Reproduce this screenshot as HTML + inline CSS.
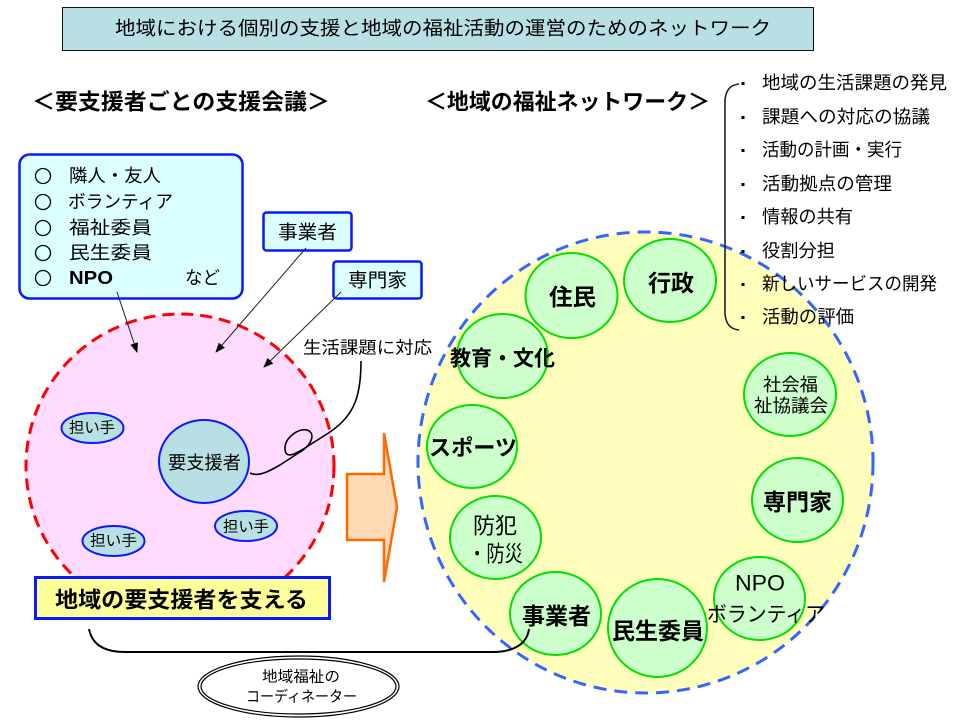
<!DOCTYPE html>
<html><head><meta charset="utf-8"><style>
html,body{margin:0;padding:0;background:#fff;}
svg{display:block;}
text{font-family:"Liberation Sans","Noto Sans CJK JP",sans-serif;fill:#000;}
</style></head><body>
<svg width="960" height="720" viewBox="0 0 960 720" xmlns="http://www.w3.org/2000/svg">
<defs>
<marker id="ah" markerWidth="10" markerHeight="10" refX="9" refY="5" orient="auto" markerUnits="userSpaceOnUse">
<path d="M0,1 L10,5 L0,9 Z" fill="#000"/>
</marker>
</defs>
<rect width="960" height="720" fill="#fff"/>

<!-- Title -->
<rect x="62.5" y="7.5" width="751" height="43" fill="#b8dfe3" stroke="#111" stroke-width="1"/>
<text x="115" y="29" font-size="19" dominant-baseline="central" textLength="656" lengthAdjust="spacingAndGlyphs">地域における個別の支援と地域の福祉活動の運営のためのネットワーク</text>

<!-- Headings -->
<text x="32" y="102" font-size="22" font-weight="bold" dominant-baseline="central" textLength="298" lengthAdjust="spacingAndGlyphs">＜要支援者ごとの支援会議＞</text>
<text x="425" y="102" font-size="22" font-weight="bold" dominant-baseline="central" textLength="285" lengthAdjust="spacingAndGlyphs">＜地域の福祉ネットワーク＞</text>

<!-- Pink circle -->
<ellipse cx="180" cy="466" rx="154" ry="152" fill="#ffdcff" stroke="#ff0000" stroke-width="3" stroke-dasharray="12 7"/>

<!-- Cyan box -->
<rect x="19.5" y="154.5" width="223" height="144" rx="10" fill="#dcffff" stroke="#0a1aff" stroke-width="2.5"/>
<g fill="none" stroke="#000" stroke-width="1.3">
<circle cx="43" cy="176" r="7.5"/>
<circle cx="43" cy="202" r="7.5"/>
<circle cx="43" cy="228" r="7.5"/>
<circle cx="43" cy="253" r="7.5"/>
<circle cx="43" cy="278" r="7.5"/>
</g>
<text x="69" y="176" font-size="18" dominant-baseline="central" textLength="92" lengthAdjust="spacingAndGlyphs">隣人・友人</text>
<text x="68" y="202" font-size="18" dominant-baseline="central" textLength="105" lengthAdjust="spacingAndGlyphs">ボランティア</text>
<text x="69" y="228" font-size="18" dominant-baseline="central" textLength="83" lengthAdjust="spacingAndGlyphs">福祉委員</text>
<text x="69" y="253" font-size="18" dominant-baseline="central" textLength="83" lengthAdjust="spacingAndGlyphs">民生委員</text>
<text x="69" y="278" font-size="18" font-weight="bold" dominant-baseline="central" textLength="44" lengthAdjust="spacingAndGlyphs">NPO</text>
<text x="185" y="278" font-size="18" dominant-baseline="central" textLength="35" lengthAdjust="spacingAndGlyphs">など</text>

<!-- small boxes -->
<rect x="263.5" y="212.5" width="88" height="38" rx="3" fill="#dcffff" stroke="#0a1aff" stroke-width="2.5"/>
<text x="278" y="233" font-size="19" dominant-baseline="central" textLength="59" lengthAdjust="spacingAndGlyphs">事業者</text>
<rect x="333.5" y="261.5" width="88" height="37" rx="3" fill="#dcffff" stroke="#0a1aff" stroke-width="2.5"/>
<text x="348" y="281" font-size="19" dominant-baseline="central" textLength="59" lengthAdjust="spacingAndGlyphs">専門家</text>

<!-- arrows -->
<g stroke="#222" stroke-width="1" fill="none">
<line x1="117" y1="292" x2="137" y2="352" marker-end="url(#ah)"/>
<line x1="306" y1="248" x2="216" y2="352" marker-end="url(#ah)"/>
<line x1="341" y1="292" x2="264" y2="367" marker-end="url(#ah)"/>
</g>

<text x="303" y="348" font-size="17" dominant-baseline="central" textLength="129" lengthAdjust="spacingAndGlyphs">生活課題に対応</text>

<!-- 担い手 -->
<ellipse cx="92.5" cy="428" rx="31" ry="15" fill="#b8dfe3" stroke="#0a1aff" stroke-width="2"/>
<text x="69" y="428" font-size="15" dominant-baseline="central" textLength="46" lengthAdjust="spacingAndGlyphs">担い手</text>
<ellipse cx="246" cy="526" rx="31" ry="15" fill="#b8dfe3" stroke="#0a1aff" stroke-width="2"/>
<text x="223" y="527" font-size="15" dominant-baseline="central" textLength="46" lengthAdjust="spacingAndGlyphs">担い手</text>
<ellipse cx="113.5" cy="541" rx="31" ry="15" fill="#b8dfe3" stroke="#0a1aff" stroke-width="2"/>
<text x="90" y="541" font-size="15" dominant-baseline="central" textLength="47" lengthAdjust="spacingAndGlyphs">担い手</text>

<!-- 要支援者 -->
<ellipse cx="204" cy="461.5" rx="45" ry="41.5" fill="#b8dfe3" stroke="#0a1aff" stroke-width="2"/>
<text x="168" y="463" font-size="18" dominant-baseline="central" textLength="73" lengthAdjust="spacingAndGlyphs">要支援者</text>

<!-- curve from 生活課題 -->
<path d="M361,361 C361,395 355,415 330,432 L305,448 C295,454 285,460 285,448 C285,438 298,428 307,430 C316,433 312,445 300,452 L280,465 C268,472 258,477 250,473" fill="none" stroke="#000" stroke-width="1.6"/>

<!-- Yellow box -->
<rect x="35.5" y="577.5" width="294" height="41" fill="#ffff99" stroke="#0a1aff" stroke-width="3"/>
<text x="55" y="600" font-size="22" font-weight="bold" dominant-baseline="central" textLength="253" lengthAdjust="spacingAndGlyphs">地域の要支援者を支える</text>

<!-- Orange arrow -->
<polygon points="347,474 384,474 384,433 397,507 384,582 384,540 347,540" fill="#ffdab4" stroke="#ff6a00" stroke-width="2.5" stroke-linejoin="miter"/>

<!-- Big yellow circle -->
<ellipse cx="645.5" cy="462.5" rx="227.5" ry="230.5" fill="#ffffbb" stroke="#3366ff" stroke-width="3" stroke-dasharray="13 8"/>

<!-- Green circles -->
<g fill="#ccffcc" stroke="#00e000" stroke-width="2">
<ellipse cx="571.5" cy="295.5" rx="46" ry="42.5"/>
<ellipse cx="670" cy="280.5" rx="46" ry="41.5"/>
<ellipse cx="502.5" cy="356" rx="45.5" ry="42"/>
<ellipse cx="472" cy="446.5" rx="45" ry="41.5"/>
<ellipse cx="495.5" cy="537.5" rx="45.5" ry="41.5"/>
<ellipse cx="555.5" cy="613.5" rx="45.5" ry="41.5"/>
<ellipse cx="657.5" cy="628" rx="49.5" ry="49"/>
<ellipse cx="759.5" cy="598.5" rx="45.5" ry="41.5"/>
<ellipse cx="797.5" cy="500" rx="45.5" ry="42"/>
<ellipse cx="790" cy="394.5" rx="46" ry="41.5"/>
</g>
<text x="549" y="297" font-size="23" font-weight="bold" dominant-baseline="central" textLength="47" lengthAdjust="spacingAndGlyphs">住民</text>
<text x="648" y="283" font-size="23" font-weight="bold" dominant-baseline="central" textLength="46" lengthAdjust="spacingAndGlyphs">行政</text>
<text x="450" y="359" font-size="21" font-weight="bold" dominant-baseline="central" textLength="105" lengthAdjust="spacingAndGlyphs">教育・文化</text>
<text x="429" y="448" font-size="22" dominant-baseline="central" textLength="88" lengthAdjust="spacingAndGlyphs" style="font-weight:600">スポーツ</text>
<text x="473" y="526" font-size="22" dominant-baseline="central" textLength="44" lengthAdjust="spacingAndGlyphs">防犯</text>
<text x="468" y="554" font-size="22" dominant-baseline="central" textLength="55" lengthAdjust="spacingAndGlyphs">・防災</text>
<text x="522" y="616" font-size="23" font-weight="bold" dominant-baseline="central" textLength="69" lengthAdjust="spacingAndGlyphs">事業者</text>
<text x="612" y="631" font-size="23" dominant-baseline="central" textLength="92" lengthAdjust="spacingAndGlyphs" style="font-weight:600">民生委員</text>
<text x="735" y="583" font-size="22" dominant-baseline="central" textLength="50" lengthAdjust="spacingAndGlyphs">NPO</text>
<text x="707" y="615" font-size="21" dominant-baseline="central" textLength="118" lengthAdjust="spacingAndGlyphs">ボランティア</text>
<text x="763" y="502" font-size="23" font-weight="bold" dominant-baseline="central" textLength="69" lengthAdjust="spacingAndGlyphs">専門家</text>
<text x="763" y="385" font-size="18" dominant-baseline="central" textLength="55" lengthAdjust="spacingAndGlyphs">社会福</text>
<text x="754" y="406" font-size="18" dominant-baseline="central" textLength="74" lengthAdjust="spacingAndGlyphs">祉協議会</text>

<!-- connector to 事業者 -->
<path d="M89,629 C92,645 105,652 125,652 L493,652 C512,652 527,645 529,629" fill="none" stroke="#000" stroke-width="2"/>

<!-- coordinator ellipse -->
<ellipse cx="298.5" cy="686.5" rx="100.5" ry="30.5" fill="#fff" stroke="#000" stroke-width="1.2"/>
<ellipse cx="298.5" cy="686.5" rx="97.5" ry="27.5" fill="none" stroke="#000" stroke-width="1.2"/>
<text x="262" y="677" font-size="15" dominant-baseline="central" textLength="78" lengthAdjust="spacingAndGlyphs">地域福祉の</text>
<text x="246" y="697" font-size="15" dominant-baseline="central" textLength="111" lengthAdjust="spacingAndGlyphs">コーディネーター</text>

<!-- bracket -->
<path d="M739,84 C730,85 726,90 725,100 L725,314 C726,324 730,329 739,330" fill="none" stroke="#222" stroke-width="1.6"/>

<!-- list -->
<g fill="#000">
<rect x="741.5" y="82" width="3" height="3"/>
<rect x="741.5" y="116" width="3" height="3"/>
<rect x="741.5" y="149" width="3" height="3"/>
<rect x="741.5" y="183" width="3" height="3"/>
<rect x="741.5" y="216" width="3" height="3"/>
<rect x="741.5" y="250" width="3" height="3"/>
<rect x="741.5" y="283" width="3" height="3"/>
<rect x="741.5" y="316" width="3" height="3"/>
</g>
<text x="762" y="83" font-size="18" dominant-baseline="central" textLength="185" lengthAdjust="spacingAndGlyphs">地域の生活課題の発見</text>
<text x="762" y="117" font-size="18" dominant-baseline="central" textLength="168" lengthAdjust="spacingAndGlyphs">課題への対応の協議</text>
<text x="762" y="150" font-size="18" dominant-baseline="central" textLength="140" lengthAdjust="spacingAndGlyphs">活動の計画・実行</text>
<text x="762" y="184" font-size="18" dominant-baseline="central" textLength="130" lengthAdjust="spacingAndGlyphs">活動拠点の管理</text>
<text x="762" y="217" font-size="18" dominant-baseline="central" textLength="91" lengthAdjust="spacingAndGlyphs">情報の共有</text>
<text x="762" y="251" font-size="18" dominant-baseline="central" textLength="73" lengthAdjust="spacingAndGlyphs">役割分担</text>
<text x="762" y="284" font-size="18" dominant-baseline="central" textLength="175" lengthAdjust="spacingAndGlyphs">新しいサービスの開発</text>
<text x="762" y="317" font-size="18" dominant-baseline="central" textLength="92" lengthAdjust="spacingAndGlyphs">活動の評価</text>
</svg>
</body></html>
